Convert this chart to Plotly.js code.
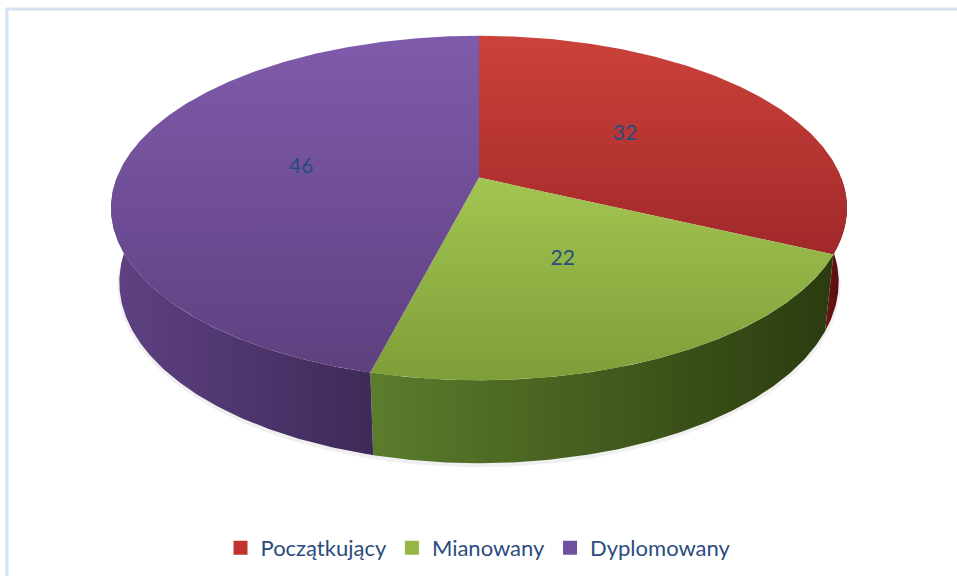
<!DOCTYPE html>
<html>
<head>
<meta charset="utf-8">
<script src="https://cdn.plot.ly/plotly-3.0.1.min.js"></script>
<style>html,body{margin:0;padding:0;background:#fff;}#chart{width:957px;height:576px;}</style>
</head>
<body>
<div id="chart"></div>
<script>
// ---- data ----
const categories = ['Początkujący', 'Mianowany', 'Dyplomowany'];
const values = [32, 22, 46];

// ---- styles ----
const topColors = [['#cc423a', '#a1282a'], ['#a2c551', '#7e9e38'], ['#7f5bab', '#5e4080']];
const sideColors = [['#6e1515', '#480909'], ['#5b7d2c', '#2b3b0f'], ['#5f4183', '#3e2a58']];
const legendColors = ['#c0332f', '#93b644', '#7250a0'];
const textColor = '#2a4c7e';
const FONT = 'Lato, "Noto Sans", sans-serif';

// ---- projection of a tilted cylinder (3D pie) ----
const W = 957, H = 576;
const cx = 479, cy = 177.6, fx = 1811, fy = 1777;
const D = 5, phi = 28 * Math.PI / 180, depthH = 0.238;
function proj(thetaDeg, Y, r) {
  const t = thetaDeg * Math.PI / 180;
  const X = r * Math.sin(t), Z = -r * Math.cos(t);
  const depth = D - (Y * Math.sin(phi) + Z * Math.cos(phi));
  const up = Y * Math.cos(phi) - Z * Math.sin(phi);
  return [cx + fx * X / depth, cy - fy * up / depth];
}
function arc(a, b, Y) {
  const pts = [];
  const n = Math.max(2, Math.ceil(Math.abs(b - a) / 0.5));
  for (let i = 0; i <= n; i++) pts.push(proj(a + (b - a) * i / n, Y, 1));
  return pts;
}

const total = values.reduce((s, v) => s + v, 0);
const starts = [], ends = [];
let acc = 0;
values.forEach(v => { starts.push(acc / total * 360); acc += v; ends.push(acc / total * 360); });

const traces = [];

// soft shadow under the front edge
{
  const pts = arc(95, 265, -depthH);
  traces.push({x: pts.map(p => p[0]), y: pts.map(p => p[1] + 2), mode: 'lines',
    line: {color: 'rgba(0,0,0,0.06)', width: 4}, hoverinfo: 'skip', showlegend: false});
}

// side walls (visible front half: 90..270 deg)
values.forEach((v, i) => {
  const a = Math.max(starts[i], 90), b = Math.min(ends[i], 270);
  if (b <= a) return;
  const pts = arc(a, b, 0).concat(arc(b, a, -depthH));
  pts.push(pts[0]);
  traces.push({x: pts.map(p => p[0]), y: pts.map(p => p[1]), mode: 'lines', fill: 'toself',
    line: {width: 0, color: sideColors[i][1]}, fillcolor: sideColors[i][0],
    fillgradient: {type: 'horizontal', colorscale: [[0, sideColors[i][0]], [1, sideColors[i][1]]]},
    hoverinfo: 'skip', showlegend: false});
});

// top faces
values.forEach((v, i) => {
  const c = proj(0, 0, 0);
  const pts = [c].concat(arc(starts[i], ends[i], 0));
  pts.push(c);
  traces.push({x: pts.map(p => p[0]), y: pts.map(p => p[1]), mode: 'lines', fill: 'toself',
    line: {width: 0, color: topColors[i][1]}, fillcolor: topColors[i][0],
    fillgradient: {type: 'vertical', colorscale: [[0, topColors[i][1]], [1, topColors[i][0]]]},
    hoverinfo: 'skip', showlegend: false});
});

// value labels
const lab = values.map((v, i) => proj((starts[i] + ends[i]) / 2, 0, 0.5));
traces.push({x: lab.map(p => p[0]), y: lab.map(p => p[1]), mode: 'text',
  text: values.map(String), textfont: {family: FONT, size: 21, color: textColor},
  hoverinfo: 'skip', showlegend: false});

// legend entries
categories.forEach((c, i) => {
  traces.push({x: [null], y: [null], mode: 'markers', name: c,
    marker: {symbol: 'square', size: 14, color: legendColors[i]}, showlegend: true});
});

const layout = {
  width: W, height: H,
  margin: {l: 0, r: 0, t: 0, b: 0},
  paper_bgcolor: '#ffffff', plot_bgcolor: '#ffffff',
  xaxis: {range: [0, W], visible: false, fixedrange: true},
  yaxis: {range: [H, 0], visible: false, fixedrange: true},
  showlegend: true,
  legend: {orientation: 'h', x: 0.5, xanchor: 'center', y: 1 - 548 / H, yanchor: 'middle',
    font: {family: FONT, size: 22, color: textColor}, itemwidth: 30, bgcolor: 'rgba(0,0,0,0)'},
  shapes: [{type: 'rect', xref: 'x', yref: 'y', x0: 7, y0: 9, x1: 990, y1: 620,
    line: {color: '#d5e2f2', width: 3}, fillcolor: 'rgba(0,0,0,0)', layer: 'below'}]
};

Plotly.newPlot('chart', traces, layout, {staticPlot: true, displayModeBar: false});
</script>
</body>
</html>
